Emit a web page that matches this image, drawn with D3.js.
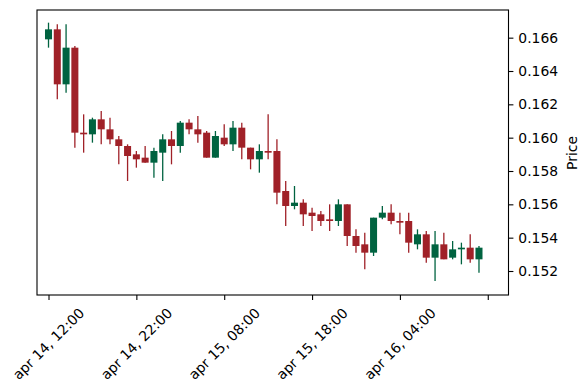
<!DOCTYPE html>
<html>
<head>
<meta charset="utf-8">
<script src="https://cdn.jsdelivr.net/npm/d3@7"></script>
<style>
  body { margin: 0; background: #fff; }
  text { font-family: "DejaVu Sans", sans-serif; }
</style>
</head>
<body>
<svg id="chart" width="588" height="390"></svg>
<script>
// hourly candles, apr 14 12:00 -> apr 16 13:00
var opens = [0.1659, 0.1665, 0.1632, 0.1654, 0.1603, 0.1602, 0.1611, 0.1605, 0.1599, 0.1595,
             0.1590, 0.1588, 0.1585, 0.1591, 0.1599, 0.1595, 0.1609, 0.1605, 0.1603, 0.1588,
             0.1600, 0.1596, 0.1606, 0.1594, 0.1587, 0.1592, 0.1592, 0.1568, 0.1559, 0.1561,
             0.1555, 0.1554, 0.1551, 0.1550, 0.1560, 0.1541, 0.1536, 0.1531, 0.1552, 0.1555,
             0.1550, 0.1550, 0.1536, 0.1542, 0.1528, 0.1536, 0.1528, 0.1533, 0.1534, 0.1527];
var highs = [0.1669, 0.1668, 0.1668, 0.1655, 0.1614, 0.1612, 0.1616, 0.1612, 0.1601, 0.1596,
             0.1592, 0.1595, 0.1594, 0.1602, 0.1604, 0.1610, 0.1611, 0.1613, 0.1604, 0.1604,
             0.1608, 0.1610, 0.1609, 0.1594, 0.1596, 0.1614, 0.1599, 0.1574, 0.1571, 0.1563,
             0.1558, 0.1556, 0.1560, 0.1563, 0.1560, 0.1545, 0.1543, 0.1552, 0.1559, 0.1560,
             0.1555, 0.1555, 0.1545, 0.1544, 0.1544, 0.1543, 0.1538, 0.1537, 0.1542, 0.1535];
var lows = [0.1654, 0.1623, 0.1627, 0.1594, 0.1591, 0.1597, 0.1596, 0.1596, 0.1584, 0.1574,
            0.1582, 0.1585, 0.1576, 0.1574, 0.1584, 0.1591, 0.1602, 0.1597, 0.1588, 0.1588,
            0.1595, 0.1592, 0.1587, 0.1581, 0.1579, 0.1587, 0.1560, 0.1547, 0.1557, 0.1547,
            0.1544, 0.1547, 0.1544, 0.1547, 0.1535, 0.1531, 0.1521, 0.1529, 0.1551, 0.1548,
            0.1542, 0.1531, 0.1533, 0.1525, 0.1514, 0.1527, 0.1527, 0.1524, 0.1525, 0.1519];
var closes = [0.1665, 0.1632, 0.1654, 0.1603, 0.1602, 0.1611, 0.1605, 0.1599, 0.1595, 0.1589,
              0.1587, 0.1585, 0.1592, 0.1599, 0.1595, 0.1609, 0.1605, 0.1602, 0.1588, 0.1601,
              0.1596, 0.1606, 0.1594, 0.1587, 0.1592, 0.1591, 0.1567, 0.1559, 0.1561, 0.1554,
              0.1553, 0.1550, 0.1550, 0.1560, 0.1541, 0.1535, 0.1531, 0.1552, 0.1555, 0.1550,
              0.1549, 0.1537, 0.1542, 0.1528, 0.1536, 0.1527, 0.1533, 0.1534, 0.1527, 0.1534];

var tickIdx = [0, 10, 20, 30, 40, 50];
var tickLabels = ["apr 14, 12:00", "apr 14, 22:00", "apr 15, 08:00", "apr 15, 18:00", "apr 16, 04:00", ""];
var priceTicks = [0.152, 0.154, 0.156, 0.158, 0.160, 0.162, 0.164, 0.166];

var upColor = "#006340", downColor = "#a02128";

var svg = d3.select("#chart"),
    plotL = 37, plotR = 508.5, plotT = 10, plotB = 295;

var data = opens.map(function(o, i) {
    return {i: i, o: o, h: highs[i], l: lows[i], c: closes[i]};
});

var x = d3.scaleLinear().domain([-1.31, 52.36]).range([plotL, plotR]);
var y = d3.scaleLinear().domain([0.15056, 0.16766]).range([plotB, plotT]);

var step = x(1) - x(0);
var bodyW = step * 0.8;

// wicks
svg.append("g").selectAll("line")
    .data(data)
    .enter()
    .append("line")
    .attr("x1", function(d) { return x(d.i); })
    .attr("x2", function(d) { return x(d.i); })
    .attr("y1", function(d) { return y(d.h); })
    .attr("y2", function(d) { return y(d.l); })
    .attr("stroke", function(d) { return d.c >= d.o ? upColor : downColor; })
    .attr("stroke-width", 1.3);

// bodies
svg.append("g").selectAll("rect")
    .data(data)
    .enter()
    .append("rect")
    .attr("x", function(d) { return x(d.i) - bodyW / 2; })
    .attr("y", function(d) { return y(Math.max(d.o, d.c)); })
    .attr("width", bodyW)
    .attr("height", function(d) { return Math.max(1, Math.abs(y(d.o) - y(d.c))); })
    .attr("fill", function(d) { return d.c >= d.o ? upColor : downColor; });

// right axis
var yAxis = svg.append("g")
    .attr("transform", "translate(" + plotR + ",0)")
    .call(d3.axisRight(y).tickValues(priceTicks).tickFormat(d3.format(".3f")).tickSize(4.9).tickPadding(4.9));
yAxis.select(".domain").remove();
yAxis.selectAll("text").attr("font-size", "13.9px").attr("fill", "#000").style("font-family", "DejaVu Sans");
yAxis.selectAll("line").attr("stroke", "#000").attr("stroke-width", 1.1);

// bottom axis
var xAxis = svg.append("g")
    .attr("transform", "translate(0," + plotB + ")")
    .call(d3.axisBottom(x).tickValues(tickIdx).tickFormat("").tickSize(4.9));
xAxis.select(".domain").remove();
xAxis.selectAll("line").attr("stroke", "#000").attr("stroke-width", 1.1);

// rotated date labels, bbox centered under tick like matplotlib
var labelTop = plotB + 4.9 + 4.9;
tickIdx.forEach(function(t, k) {
    if (!tickLabels[k]) return;
    var txt = svg.append("text")
        .attr("font-size", "13.9px")
        .attr("text-anchor", "middle")
        .attr("dominant-baseline", "central")
        .text(tickLabels[k]);
    var w = txt.node().getComputedTextLength();
    var h = 13.9 * 1.16;
    var half = (w + h) * Math.SQRT1_2 / 2;
    txt.attr("transform", "translate(" + x(t) + "," + (labelTop + half) + ") rotate(-45)");
});

// frame
svg.append("rect")
    .attr("x", plotL).attr("y", plotT)
    .attr("width", plotR - plotL).attr("height", plotB - plotT)
    .attr("fill", "none").attr("stroke", "#000").attr("stroke-width", 1.1);

svg.append("text")
    .attr("transform", "translate(571.5,153) rotate(-90)")
    .attr("text-anchor", "middle")
    .attr("dominant-baseline", "central")
    .attr("font-size", "13.9px")
    .text("Price");
</script>
</body>
</html>
